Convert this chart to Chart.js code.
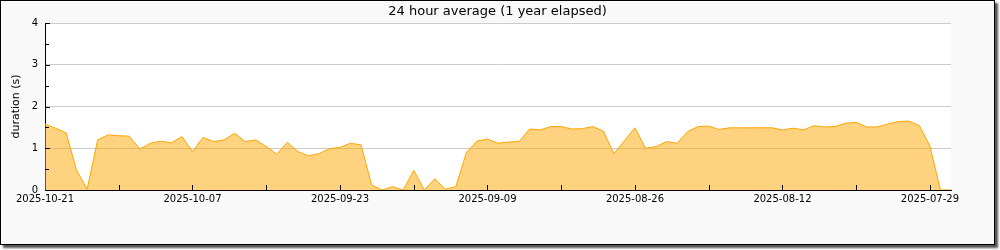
<!DOCTYPE html>
<html>
<head>
<meta charset="utf-8">
<script src="https://cdn.jsdelivr.net/npm/chart.js@4.4.1/dist/chart.umd.min.js"></script>
<style>
  body { margin: 0; background: #fff; }
  #frame {
    position: absolute; left: 0; top: 0;
    width: 993px; height: 243px;
    border: 1px solid #000;
    background: #f9f9f9;
    box-shadow: 3px 3px 2px #555;
  }
  canvas { display: block; }
</style>
</head>
<body>
<div id="frame"><canvas id="chart" width="993" height="243"></canvas></div>
<script>
// days ago (0 = 2025-10-21), one value per day
const duration = [
  1.58, 1.48, 1.37, 0.47, 0.02, 1.20, 1.32, 1.30, 1.29, 0.98,
  1.12, 1.17, 1.13, 1.28, 0.92, 1.26, 1.16, 1.20, 1.36, 1.16,
  1.20, 1.04, 0.86, 1.14, 0.92, 0.82, 0.87, 0.99, 1.02, 1.12,
  1.08, 0.12, 0.00, 0.08, 0.00, 0.47, 0.00, 0.27, 0.02, 0.08,
  0.90, 1.17, 1.22, 1.12, 1.15, 1.16, 1.46, 1.44, 1.52, 1.52,
  1.46, 1.47, 1.52, 1.41, 0.87, 1.18, 1.49, 1.00, 1.04, 1.16,
  1.12, 1.40, 1.52, 1.53, 1.45, 1.49, 1.49, 1.49, 1.49, 1.49,
  1.44, 1.48, 1.44, 1.54, 1.51, 1.52, 1.60, 1.62, 1.51, 1.51,
  1.58, 1.64, 1.65, 1.54, 1.05, 0.00, 0.00
];
const dateLabels = ['2025-10-21', '2025-10-07', '2025-09-23', '2025-09-09', '2025-08-26', '2025-08-12', '2025-07-29'];
const yTicks = [0, 1, 2, 3, 4];

const font = 'DejaVu Sans';

// white plot area
const plotBg = {
  id: 'plotBg',
  beforeDraw(chart) {
    const a = chart.chartArea, c = chart.ctx;
    c.save();
    c.fillStyle = '#fff';
    c.fillRect(a.left, a.top, a.right - a.left, a.bottom - a.top);
    c.restore();
  }
};

// tick marks pointing into the plot
const innerTicks = {
  id: 'innerTicks',
  afterDatasetsDraw(chart) {
    const c = chart.ctx, a = chart.chartArea;
    const xs = chart.scales.x, ys = chart.scales.y;
    c.save();
    c.strokeStyle = '#000';
    c.lineWidth = 1;
    c.beginPath();
    for (let v = 7; v <= 84; v += 7) {
      const px = Math.round(xs.getPixelForValue(v)) + 0.5;
      c.moveTo(px, a.bottom);
      c.lineTo(px, a.bottom - 5);
    }
    for (let v = 0.5; v <= 4; v += 0.5) {
      const py = Math.round(ys.getPixelForValue(v)) + 0.5;
      c.moveTo(a.left, py);
      c.lineTo(a.left + (v % 1 === 0 ? 5 : 4), py);
    }
    c.stroke();
    c.restore();
  }
};

new Chart(document.getElementById('chart'), {
  type: 'line',
  data: {
    datasets: [{
      data: duration.map((v, i) => ({ x: i, y: v })),
      borderColor: '#ffa500',
      backgroundColor: 'rgba(255,165,0,0.5)',
      borderWidth: 1,
      pointRadius: 0,
      fill: 'origin',
      tension: 0
    }]
  },
  options: {
    responsive: false,
    animation: false,
    layout: { padding: 0 },
    plugins: {
      legend: { display: false },
      tooltip: { enabled: false },
      title: {
        display: true,
        text: '24 hour average (1 year elapsed)',
        color: '#000',
        font: { family: font, size: 13, weight: 'normal' },
        padding: { top: 3, bottom: 3.4 }
      }
    },
    scales: {
      x: {
        type: 'linear',
        min: 0,
        max: 86,
        afterFit: s => { s.height = 54; },
        border: { display: true, color: '#000', width: 1 },
        grid: { display: false, drawTicks: false },
        afterBuildTicks: s => {
          s.ticks = dateLabels.map((d, i) => ({ value: i * 14 }));
        },
        ticks: {
          autoSkip: false,
          maxRotation: 0,
          padding: 3,
          color: '#000',
          font: { family: font, size: 10 },
          callback: (v) => dateLabels[v / 14]
        }
      },
      y: {
        min: 0,
        max: 4,
        afterFit: s => { s.width = 44; },
        afterBuildTicks: s => {
          s.ticks = yTicks.map(v => ({ value: v }));
        },
        border: { display: true, color: '#000', width: 1 },
        grid: {
          drawTicks: false,
          color: ctx => ctx.tick && ctx.tick.value === 0 ? 'rgba(0,0,0,0)' : '#ccc'
        },
        ticks: {
          padding: 7,
          color: '#000',
          font: { family: font, size: 10 }
        },
        title: {
          display: true,
          text: 'duration (s)',
          color: '#000',
          font: { family: font, size: 11 },
          padding: { top: 9, bottom: 0 }
        }
      },
      // empty right margin so the title stays centred on the whole frame
      yRight: {
        position: 'right',
        min: 0,
        max: 4,
        afterFit: s => { s.width = 43; },
        border: { display: false },
        grid: { display: false, drawTicks: false },
        ticks: { display: false }
      }
    }
  },
  plugins: [plotBg, innerTicks]
});
</script>
</body>
</html>
